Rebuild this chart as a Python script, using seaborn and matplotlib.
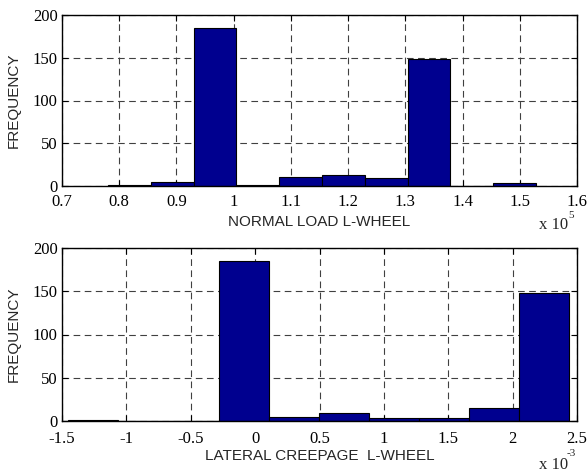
import numpy as np
import pandas as pd
import seaborn as sns
import matplotlib
matplotlib.use("Agg")
import matplotlib.pyplot as plt

# ---- data ----
# Top: normal load, units of 1e5
load_edges = [0.7805, 0.8553, 0.9301, 1.0049, 1.0797, 1.1545, 1.2293, 1.3041, 1.3789, 1.4537, 1.5285]
load_counts = [1, 5, 185, 1, 11, 13, 9, 148, 0, 3]
load_xticks = [0.7, 0.8, 0.9, 1.0, 1.1, 1.2, 1.3, 1.4, 1.5, 1.6]
load_xticklabels = ["0.7", "0.8", "0.9", "1", "1.1", "1.2", "1.3", "1.4", "1.5", "1.6"]

# Bottom: lateral creepage, units of 1e-3
creep_edges = [-1.451, -1.062, -0.673, -0.284, 0.105, 0.494, 0.883, 1.272, 1.661, 2.050, 2.440]
creep_counts = [1, 0, 0, 185, 5, 9, 4, 4, 15, 148]
creep_xticks = [-1.5, -1.0, -0.5, 0.0, 0.5, 1.0, 1.5, 2.0, 2.5]
creep_xticklabels = ["-1.5", "-1", "-0.5", "0", "0.5", "1", "1.5", "2", "2.5"]

yticks = [0, 50, 100, 150, 200]
yticklabels = ["0", "50", "100", "150", "200"]

W, H = 587, 472
sns.set_theme(style="white")
plt.rcParams["font.family"] = ["Liberation Sans", "DejaVu Sans"]

fig = plt.figure(figsize=(W / 100, H / 100), dpi=100)

def px_axes(l, t, r, b):
    return fig.add_axes([l / W, 1 - b / H, (r - l) / W, (b - t) / H])

ax1 = px_axes(62, 15, 577, 186)
ax2 = px_axes(62, 248, 577, 421)

BAR = "#00008F"
tick_font = dict(family=["Liberation Serif", "DejaVu Serif"], size=12)
lab_font = dict(family=["Liberation Sans", "DejaVu Sans"], size=11)

def draw(ax, edges, counts, xlim, xticks, xticklabels, xlabel, xpad, lpad):
    centers = [(a + b) / 2 for a, b in zip(edges[:-1], edges[1:])]
    df = pd.DataFrame({"x": centers, "w": counts})
    sns.histplot(data=df, x="x", weights="w", bins=list(edges), ax=ax,
                 color=BAR, alpha=1, edgecolor="black", linewidth=0.8)
    ax.set_xlim(*xlim)
    ax.set_ylim(0, 200)
    ax.set_xticks(xticks)
    ax.set_xticklabels(xticklabels, **tick_font)
    ax.set_yticks(yticks)
    ax.set_yticklabels(yticklabels, **tick_font)
    ax.set_axisbelow(True)
    ax.grid(True, color="#404040", linestyle=(0, (6, 4)), linewidth=0.8)
    ax.tick_params(direction="in", length=4, width=0.8, color="black",
                   top=True, right=True, bottom=True, left=True,
                   labelcolor="black")
    ax.tick_params(axis="x", pad=xpad)
    ax.tick_params(axis="y", pad=3)
    for s in ax.spines.values():
        s.set_visible(True)
        s.set_color("black")
        s.set_linewidth(1.0)
    ax.set_xlabel(xlabel, **lab_font, labelpad=lpad)
    ax.set_ylabel("FREQUENCY", **lab_font, labelpad=9)

draw(ax1, load_edges, load_counts, (0.7, 1.6), load_xticks, load_xticklabels,
     "NORMAL LOAD L-WHEEL", 6, 3)
draw(ax2, creep_edges, creep_counts, (-1.5, 2.5), creep_xticks, creep_xticklabels,
     "LATERAL CREEPAGE  L-WHEEL", 7, 2)

def ftext(x, y, s, size, **kw):
    fig.text(x / W, 1 - y / H, s, ha="center", va="center",
             family=["Liberation Serif", "DejaVu Serif"], size=size, **kw)

ftext(554, 225, "x 10", 12)
ftext(571, 216, "5", 8)
ftext(554, 465, "x 10", 12)
ftext(571, 453, "-3", 8)

fig.savefig("out.png", dpi=100, facecolor="white")
